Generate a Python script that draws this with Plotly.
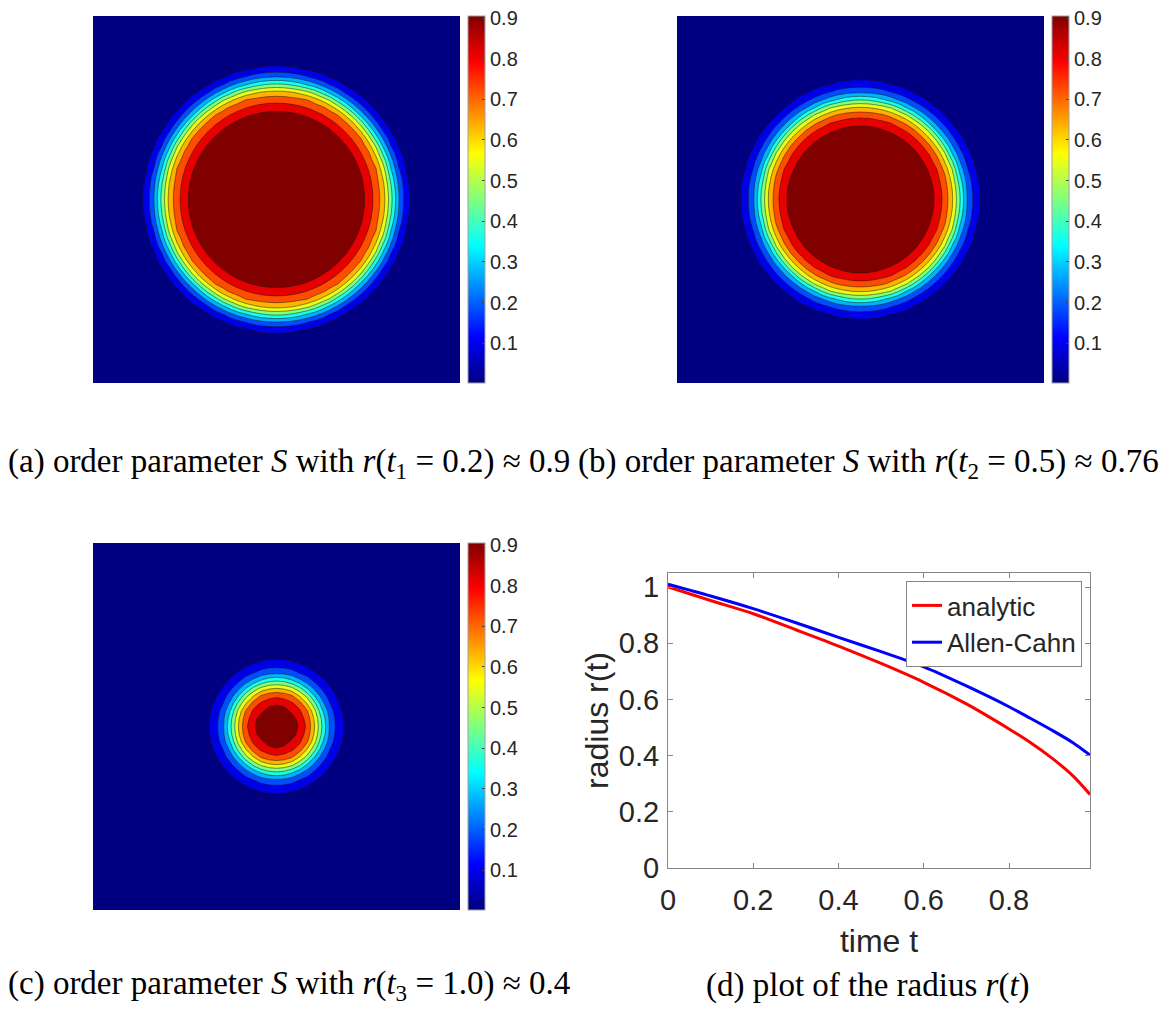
import numpy as np
import plotly.graph_objects as go

# ---------------- data ----------------
# contour levels of the order parameter S
level_values = [0.09, 0.18, 0.27, 0.36, 0.45, 0.54, 0.63, 0.72, 0.81, 0.90]
S_center = 1.8
S_outside = 0.0
# radius (domain units, domain [-1.5, 1.5]) at which S crosses each level
radii_a = [1.083, 1.034, 1.002, 0.969, 0.944, 0.920, 0.887, 0.854, 0.789, 0.721]
radii_b = [0.971, 0.912, 0.871, 0.838, 0.814, 0.789, 0.754, 0.721, 0.672, 0.598]
radii_c = [0.544, 0.476, 0.429, 0.399, 0.372, 0.345, 0.312, 0.285, 0.244, 0.149]
domain_lim = [-1.5, 1.5]
n_grid = 49

# radius curves
t_vals = [0.0, 0.1, 0.2, 0.3, 0.4, 0.5, 0.6, 0.7, 0.8, 0.85, 0.9, 0.95, 0.99]
r_analytic = [1.0, 0.952, 0.905, 0.848, 0.790, 0.728, 0.661, 0.584, 0.495, 0.447, 0.392, 0.328, 0.262]
r_allen_cahn = [1.01, 0.968, 0.923, 0.873, 0.821, 0.770, 0.716, 0.648, 0.574, 0.533, 0.491, 0.446, 0.402]

cbar_ticks = [0.1, 0.2, 0.3, 0.4, 0.5, 0.6, 0.7, 0.8, 0.9]
cbar_range = [0.002, 0.905]
x_ticks_d = [0, 0.2, 0.4, 0.6, 0.8]
y_ticks_d = [0, 0.2, 0.4, 0.6, 0.8, 1.0]

captions = [
    "(a) order parameter <i>S</i> with <i>r</i>(<i>t</i><sub>1</sub> = 0.2) ≈ 0.9",
    "(b) order parameter <i>S</i> with <i>r</i>(<i>t</i><sub>2</sub> = 0.5) ≈ 0.76",
    "(c) order parameter <i>S</i> with <i>r</i>(<i>t</i><sub>3</sub> = 1.0) ≈ 0.4",
    "(d) plot of the radius <i>r</i>(<i>t</i>)",
]

# ---------------- helpers ----------------
W, H = 1175, 1010
def px_x(x):
    return x / W
def px_y(y):
    return 1 - y / H

jet = [[0.0, "rgb(0,0,128)"], [0.125, "rgb(0,0,255)"], [0.375, "rgb(0,255,255)"],
       [0.625, "rgb(255,255,0)"], [0.875, "rgb(255,0,0)"], [1.0, "rgb(128,0,0)"]]

grid = np.linspace(domain_lim[0], domain_lim[1], n_grid)
XX, YY = np.meshgrid(grid, grid)
DD = np.sqrt(XX ** 2 + YY ** 2)

def field(radii):
    rr = [0.0] + list(radii[::-1]) + [radii[0] + 0.1, 5.0]
    ss = [S_center] + list(level_values[::-1]) + [S_outside, S_outside]
    return np.interp(DD, rr, ss)

fig = go.Figure()

panels = [
    # (radii, axis suffix, left, top, colorbar left)
    (radii_a, "", 93, 16, 468),
    (radii_b, "2", 677, 16, 1052),
    (radii_c, "3", 93, 543, 468),
]
size_px = 367

layout = dict(width=W, height=H, margin=dict(l=0, r=0, t=0, b=0, autoexpand=False),
              paper_bgcolor="white", plot_bgcolor="white", showlegend=True)

for radii, sfx, left, top, cb_left in panels:
    xa = "x" + sfx
    ya = "y" + sfx
    fig.add_trace(go.Contour(
        x=grid, y=grid, z=field(radii),
        xaxis=xa, yaxis=ya,
        colorscale=jet, showscale=False,
        autocontour=False,
        contours=dict(start=level_values[0], end=level_values[-1],
                      size=level_values[1] - level_values[0], coloring="fill"),
        line=dict(color="rgba(20,20,20,0.85)", width=0.6, smoothing=0),
        hoverinfo="skip", showlegend=False,
    ))
    fig.add_trace(go.Scatter(
        x=[0, 0], y=[0, 0], xaxis=xa, yaxis=ya, mode="markers",
        marker=dict(size=1, opacity=0, color=cbar_range, colorscale=jet,
                    cmin=cbar_range[0], cmax=cbar_range[1], showscale=True,
                    colorbar=dict(
                        x=px_x(cb_left), xanchor="left", xpad=0, ypad=0,
                        y=px_y(top + size_px / 2), yanchor="middle",
                        len=size_px / H, lenmode="fraction",
                        thickness=17, thicknessmode="pixels",
                        outlinewidth=1, outlinecolor="#a0a0a0",
                        tickvals=cbar_ticks, ticktext=[f"{v:.1f}" for v in cbar_ticks],
                        ticks="inside", ticklen=3, tickcolor="#404040",
                        tickfont=dict(family="Liberation Sans, Arial", size=20, color="#262626"),
                    )),
        hoverinfo="skip", showlegend=False,
    ))
    key = "xaxis" + sfx
    keyy = "yaxis" + sfx
    layout[key] = dict(domain=[px_x(left), px_x(left + size_px)], range=domain_lim,
                       visible=False, anchor=ya)
    layout[keyy] = dict(domain=[px_y(top + size_px), px_y(top)], range=domain_lim,
                        visible=False, anchor=xa)

# panel (d)
fig.add_trace(go.Scatter(x=t_vals, y=r_analytic, mode="lines", name="analytic",
                         line=dict(color="rgb(255,0,0)", width=3, shape="spline", smoothing=0.8),
                         xaxis="x4", yaxis="y4"))
fig.add_trace(go.Scatter(x=t_vals, y=r_allen_cahn, mode="lines", name="Allen-Cahn",
                         line=dict(color="rgb(0,0,255)", width=3, shape="spline", smoothing=0.8),
                         xaxis="x4", yaxis="y4"))

axis_font = dict(family="Liberation Sans, Arial", size=29, color="#262626")
title_font = dict(family="Liberation Sans, Arial", size=32, color="#262626")
layout["xaxis4"] = dict(domain=[px_x(668), px_x(1090)], range=[0, 0.99], anchor="y4",
                        tickvals=x_ticks_d, ticktext=["0", "0.2", "0.4", "0.6", "0.8"],
                        ticks="inside", ticklen=5, tickcolor="#858585",
                        showline=True, linecolor="#858585", linewidth=1, mirror="ticks",
                        showgrid=False, zeroline=False, tickfont=axis_font,
                        ticklabelstandoff=6,
                        title=dict(text="time t", font=title_font, standoff=14))
layout["yaxis4"] = dict(domain=[px_y(868), px_y(573)], range=[0, 1.05], anchor="x4",
                        tickvals=y_ticks_d, ticktext=["0", "0.2", "0.4", "0.6", "0.8", "1"],
                        ticks="inside", ticklen=5, tickcolor="#858585",
                        showline=True, linecolor="#858585", linewidth=1, mirror="ticks",
                        showgrid=False, zeroline=False, tickfont=axis_font,
                        ticklabelstandoff=2,
                        title=dict(text="radius r(t)", font=title_font, standoff=0))
layout["legend"] = dict(x=px_x(1082), xanchor="right", y=px_y(581), yanchor="top",
                        bgcolor="white", bordercolor="#858585", borderwidth=1,
                        font=dict(family="Liberation Sans, Arial", size=26, color="#262626"),
                        tracegroupgap=0, itemwidth=30)

cap_pos = [(6, 464), (576, 464), (6, 985), (704, 985)]
anns = []
for text, (cx, cy) in zip(captions, cap_pos):
    anns.append(dict(text=text, x=px_x(cx), y=px_y(cy), xref="paper", yref="paper",
                     xanchor="left", yanchor="middle", showarrow=False,
                     font=dict(family="Liberation Serif, Times New Roman", size=33, color="black")))
layout["annotations"] = anns

fig.update_layout(**layout)
fig.write_html("out.html")
